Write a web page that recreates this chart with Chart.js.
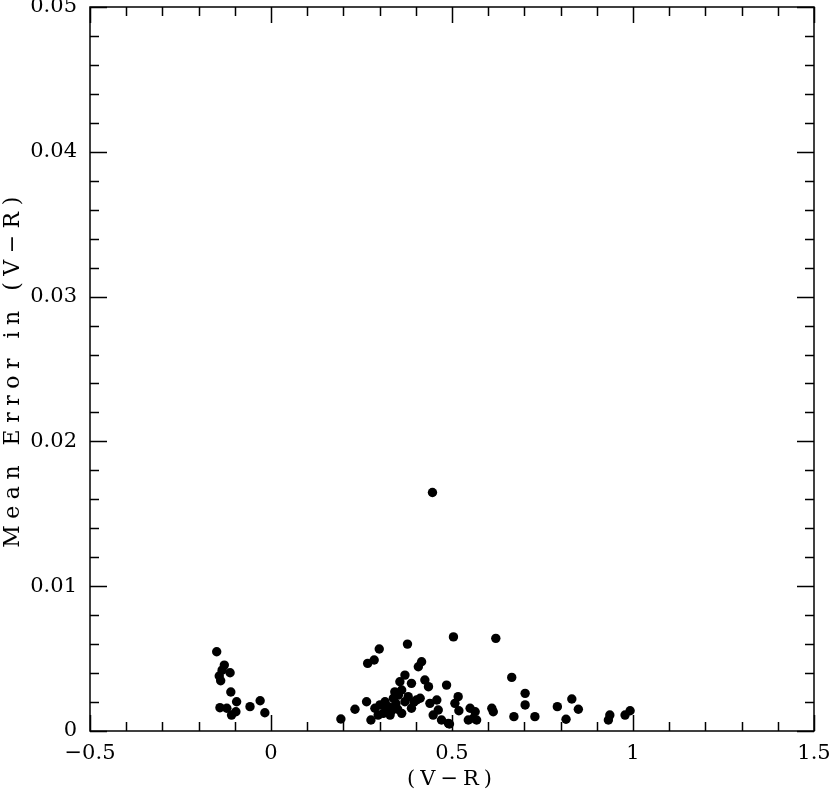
<!DOCTYPE html>
<html>
<head>
<meta charset="utf-8">
<script src="https://cdn.jsdelivr.net/npm/chart.js@4.4.1/dist/chart.umd.min.js"></script>
<style>
    html, body { margin: 0; padding: 0; background: #fff; }
    #wrap { width: 830px; height: 796px; position: relative; }
</style>
</head>
<body>
<div id="wrap"><canvas id="chart"></canvas></div>
<script>
// Valores: cor (V-R) e erro médio em (V-R)
const colorVR = [
    -0.150, -0.129, -0.135, -0.113, -0.143, -0.139, -0.111, -0.095, -0.141, -0.122,
    -0.109, -0.097, -0.058, -0.030, -0.017,
    0.193, 0.232, 0.264, 0.267, 0.285, 0.299, 0.377, 0.276, 0.287, 0.296,
    0.301, 0.315, 0.310, 0.329, 0.324, 0.338, 0.352, 0.361, 0.356, 0.370,
    0.361, 0.370, 0.379, 0.388, 0.388, 0.402, 0.412, 0.407, 0.416, 0.425,
    0.435, 0.439, 0.458, 0.485, 0.504, 0.448, 0.471, 0.490, 0.462, 0.517,
    0.508, 0.519, 0.493, 0.446, 0.345, 0.350, 0.333, 0.395, 0.342, 0.318,
    0.550, 0.545, 0.564, 0.559, 0.568, 0.610, 0.614, 0.621, 0.665, 0.702,
    0.702, 0.671, 0.729, 0.791, 0.831, 0.849, 0.815, 0.936, 0.932, 0.978,
    0.992
];
const meanError = [
    0.00547, 0.00455, 0.00420, 0.00402, 0.00380, 0.00347, 0.00269, 0.00202, 0.00161, 0.00157,
    0.00110, 0.00133, 0.00168, 0.00209, 0.00126,
    0.00083, 0.00150, 0.00202, 0.00467, 0.00490, 0.00566, 0.00600, 0.00076, 0.00157, 0.00110,
    0.00180, 0.00202, 0.00122, 0.00110, 0.00168, 0.00226, 0.00248, 0.00283, 0.00340, 0.00386,
    0.00122, 0.00202, 0.00237, 0.00329, 0.00157, 0.00214, 0.00226, 0.00444, 0.00478, 0.00352,
    0.00306, 0.00191, 0.00214, 0.00317, 0.00650, 0.00110, 0.00076, 0.00053, 0.00145, 0.00237,
    0.00191, 0.00140, 0.00048, 0.01647, 0.00190, 0.00150, 0.00140, 0.00200, 0.00270, 0.00160,
    0.00157, 0.00076, 0.00133, 0.00088, 0.00076, 0.00157, 0.00133, 0.00640, 0.00370, 0.00260,
    0.00180, 0.00099, 0.00099, 0.00168, 0.00221, 0.00150, 0.00081, 0.00110, 0.00076, 0.00110,
    0.00140
];
const xTickLabels = ['\u22120.5', '0', '0.5', '1', '1.5'];
const yTickLabels = ['0', '0.01', '0.02', '0.03', '0.04', '0.05'];
const xTitle = '(V\u2212R)';
const yTitle = 'Mean Error in (V\u2212R)';

const FONT = "'DejaVu Serif', 'Liberation Serif', serif";

// Títulos dos eixos com espaçamento largo, como na figura original
if (Chart.Scale && Chart.Scale.prototype.drawTitle) {
    const baseDrawTitle = Chart.Scale.prototype.drawTitle;
    Chart.Scale.prototype.drawTitle = function () {
        this.ctx.save();
        this.ctx.letterSpacing = this.axis === 'y' ? '6.5px' : '5px';
        baseDrawTitle.call(this);
        this.ctx.restore();
    };
}

// Moldura e marcas de escala para dentro nos quatro lados
const frameTicks = {
    id: 'frameTicks',
    afterDraw(chart) {
        const { ctx, chartArea: a, scales: { x, y } } = chart;
        ctx.save();
        ctx.strokeStyle = '#000';
        ctx.lineWidth = 1.5;
        ctx.strokeRect(a.left, a.top, a.right - a.left, a.bottom - a.top);

        ctx.beginPath();
        for (let i = 0; i <= 20; i++) {
            const v = x.min + i * 0.1;
            const px = Math.round(x.getPixelForValue(v)) + 0.5;
            const len = i % 5 === 0 ? 16 : 9;
            ctx.moveTo(px, a.bottom); ctx.lineTo(px, a.bottom - len);
            ctx.moveTo(px, a.top); ctx.lineTo(px, a.top + len);
        }
        for (let i = 0; i <= 25; i++) {
            const v = y.min + i * 0.002;
            const py = Math.round(y.getPixelForValue(v)) + 0.5;
            const len = i % 5 === 0 ? 17 : 9;
            ctx.moveTo(a.left, py); ctx.lineTo(a.left + len, py);
            ctx.moveTo(a.right, py); ctx.lineTo(a.right - len, py);
        }
        ctx.stroke();
        ctx.restore();
    }
};

const ctx = document.getElementById('chart').getContext('2d');
new Chart(ctx, {
    type: 'scatter',
    data: {
        datasets: [{
            data: colorVR.map((v, i) => ({ x: v, y: meanError[i] })),
            backgroundColor: '#000',
            borderWidth: 0,
            pointRadius: 4.7,
            pointHoverRadius: 4.7
        }]
    },
    options: {
        responsive: true,
        maintainAspectRatio: false,
        animation: false,
        layout: { padding: { top: 7, right: 16, left: 0, bottom: 0 } },
        plugins: {
            legend: { display: false },
            tooltip: { enabled: false }
        },
        scales: {
            x: {
                type: 'linear',
                min: -0.5,
                max: 1.5,
                afterFit: (s) => {
                    s.height = 65;
                    s.paddingLeft = 0;
                    s.paddingRight = 0;
                },
                grid: { display: false, drawTicks: false },
                border: { display: false },
                ticks: {
                    stepSize: 0.5,
                    padding: 10,
                    maxRotation: 0,
                    color: '#000',
                    font: { family: FONT, size: 21 },
                    callback: (v, i) => xTickLabels[i]
                },
                title: {
                    display: true,
                    text: xTitle,
                    color: '#000',
                    font: { family: FONT, size: 21 },
                    padding: { top: 0, bottom: 4 }
                }
            },
            y: {
                type: 'linear',
                min: 0,
                max: 0.05,
                afterFit: (s) => {
                    s.width = 90;
                    s.paddingTop = 0;
                    s.paddingBottom = 0;
                },
                grid: { display: false, drawTicks: false },
                border: { display: false },
                ticks: {
                    stepSize: 0.01,
                    padding: 13,
                    color: '#000',
                    font: { family: FONT, size: 21 },
                    callback: (v, i) => yTickLabels[i]
                },
                title: {
                    display: true,
                    text: yTitle,
                    color: '#000',
                    font: { family: FONT, size: 22 },
                    padding: { top: 0, bottom: 0 }
                }
            }
        }
    },
    plugins: [frameTicks]
});
</script>
</body>
</html>
